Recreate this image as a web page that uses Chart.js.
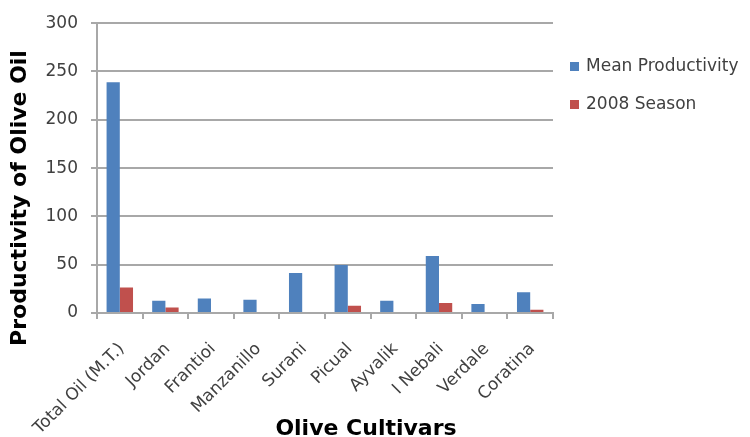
<!DOCTYPE html>
<html>
<head>
<meta charset="utf-8">
<script src="https://cdn.jsdelivr.net/npm/chart.js@4/dist/chart.umd.min.js"></script>
<style>
  html, body { margin: 0; padding: 0; background: #ffffff; }
  #wrap { width: 750px; height: 437px; }
</style>
</head>
<body>
<div id="wrap"><canvas id="chart" width="750" height="437"></canvas></div>
<script>
// Olive oil productivity by cultivar
const cultivars = ['Total Oil (M.T.)', 'Jordan', 'Frantioi', 'Manzanillo', 'Surani',
                   'Picual', 'Ayvalik', 'I Nebali', 'Verdale', 'Coratina'];
const meanProductivity = [239, 12.7, 15, 13.7, 41.3, 49.8, 12.7, 59.1, 9.3, 21.6];
const season2008 = [26.4, 5.8, null, null, null, 7.5, null, 10.3, null, 3.4];
const seriesNames = ['Mean Productivity', '2008 Season'];
const yTickValues = [0, 50, 100, 150, 200, 250, 300];
const xTitle = 'Olive Cultivars';
const yTitle = 'Productivity of Olive Oil';

const BLUE = '#4F81BD';
const RED = '#C0504D';
const GRID = '#a8a8a8';
const TEXT = '#404040';
const FONT = '"DejaVu Sans", sans-serif';

// Axis titles and the legend, drawn after the chart itself
const decorations = {
  id: 'decorations',
  afterDraw(chart) {
    const ctx = chart.ctx;
    ctx.save();
    ctx.fillStyle = '#000000';
    ctx.font = 'bold 22px ' + FONT;

    // x axis title
    ctx.textAlign = 'center';
    ctx.textBaseline = 'alphabetic';
    ctx.fillText(xTitle, 366, 435);

    // y axis title
    ctx.save();
    ctx.translate(26, 198);
    ctx.rotate(-Math.PI / 2);
    ctx.fillText(yTitle, 0, 0);
    ctx.restore();

    // legend
    ctx.font = '17px ' + FONT;
    ctx.textAlign = 'left';
    ctx.textBaseline = 'middle';
    const rows = [66.5, 104.5];
    chart.data.datasets.forEach((ds, i) => {
      ctx.fillStyle = ds.backgroundColor;
      ctx.fillRect(570, rows[i] - 4.5, 9, 9);
      ctx.fillStyle = TEXT;
      ctx.fillText(ds.label, 586, rows[i]);
    });
    ctx.restore();
  }
};

new Chart(document.getElementById('chart'), {
  type: 'bar',
  data: {
    labels: cultivars,
    datasets: [
      { label: seriesNames[0], data: meanProductivity, backgroundColor: BLUE },
      { label: seriesNames[1], data: season2008, backgroundColor: RED }
    ]
  },
  options: {
    responsive: false,
    animation: false,
    layout: { padding: { top: 22, right: 197, bottom: 0, left: 0 } },
    datasets: { bar: { categoryPercentage: 0.58, barPercentage: 1.0 } },
    plugins: {
      legend: { display: false },
      tooltip: { enabled: false }
    },
    scales: {
      x: {
        offset: true,
        grid: { display: true, drawOnChartArea: false, offset: true, color: GRID, lineWidth: 2, tickLength: 6 },
        border: { display: true, color: GRID, width: 2 },
        ticks: {
          autoSkip: false, minRotation: 45, maxRotation: 45, padding: 20, labelOffset: 2,
          color: TEXT, font: { family: FONT, size: 17 }
        },
        afterFit(scale) { scale.height = 124; }
      },
      y: {
        min: 0, max: 300,
        afterBuildTicks(scale) { scale.ticks = yTickValues.map(v => ({ value: v })); },
        grid: { color: GRID, lineWidth: 2, tickLength: 6 },
        border: { display: true, color: GRID, width: 2 },
        ticks: { padding: 13, color: TEXT, font: { family: FONT, size: 17 } },
        afterFit(scale) { scale.width = 97; }
      }
    }
  },
  plugins: [decorations]
});
</script>
</body>
</html>
